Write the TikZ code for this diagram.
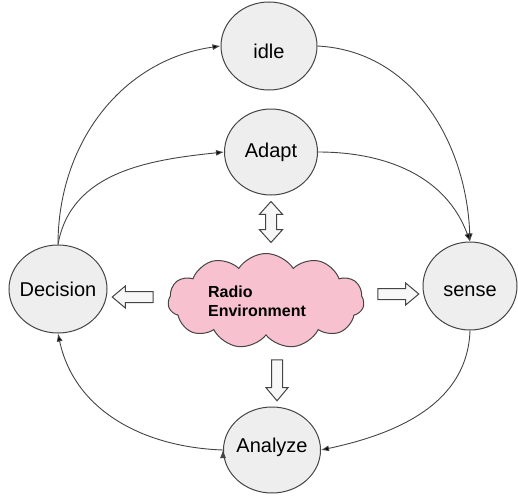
\documentclass[tikz,border=0pt]{standalone}
\usepackage{fontspec}
\setmainfont{Liberation Sans}
\usetikzlibrary{shapes.geometric,shapes.symbols,shapes.arrows,arrows.meta}
\definecolor{linegray}{HTML}{444444}
\definecolor{statefill}{HTML}{EEEEEE}
\definecolor{cloudpink}{HTML}{F8C1CF}
% state text of zero width, so that the ellipse keeps its own size
\newcommand{\statename}[2][0pt]{\makebox[0pt]{\raisebox{#1}[\height][\depth]{#2}}}
\begin{document}
\begin{tikzpicture}
			[x=1pt,y=-1pt,
			every ellipse node/.style={draw=linegray,fill=statefill,line width=1pt,inner sep=0pt,font=\fontsize{20}{24}\selectfont},
			blockarrow/.style={draw=linegray,fill=gray!6,line width=1pt,inner sep=0pt,inner ysep=5pt,minimum height=41pt},
			onearrow/.style={blockarrow,single arrow,single arrow head extend=5.5pt,single arrow tip angle=80},
			twoarrow/.style={blockarrow,double arrow,double arrow head extend=6pt,double arrow tip angle=84}]
			\useasboundingbox (0,0) rectangle (518,495);
			\node[ellipse,minimum width=96pt,minimum height=88pt,font=\fontsize{24}{28}\selectfont] (idle) at (269,46) {\statename[-5pt]{idle}};
			\node[ellipse,minimum width=93pt,minimum height=86pt] (adapt) at (271,152) {\statename{Adapt}};
			\node[ellipse,minimum width=98pt,minimum height=88pt] (decision) at (58,289) {\statename{Decision}};
			\node[ellipse,minimum width=94pt,minimum height=88pt,font=\fontsize{24}{28}\selectfont] (sense) at (470,286) {\statename[-5pt]{sense}};
			\node[ellipse,minimum width=97pt,minimum height=86pt] (analyze) at (272,450) {\statename[3pt]{Analyze}};
			\node[cloud,cloud puffs=11,cloud puff arc=115,aspect=2.1,draw=linegray,fill=cloudpink,line width=1pt,minimum width=196pt,minimum height=95pt] (radio) at (266,301) {};
			\node[align=left,font=\fontsize{16}{19}\bfseries\selectfont] (radiotext) at (257,301) {Radio\\Environment};
			\node[twoarrow,rotate=90] (adaptarrow) at (271,222) {};
			\node[onearrow,rotate=180] (decisionarrow) at (136,297) {};
			\node[onearrow] (sensearrow) at (395,294) {};
			\node[onearrow,rotate=-90] (analyzearrow) at (277,377) {};
			\path[-{Latex[length=8pt,width=6pt]},draw,line width=0.9pt,draw=linegray]
			(decision.north) edge[out=90,in=188] (idle.west)
			(decision.north) edge[out=80,in=186] (adapt.west)
			(idle.east) edge[out=-3,in=92] (sense.north)
			(adapt.east) edge[out=0,in=110] (sense.north)
			(sense.south) edge[out=-92,in=12] (analyze.east)
			(analyze.west) edge[out=178,in=-78] (decision.south);
		\end{tikzpicture}
\end{document}
